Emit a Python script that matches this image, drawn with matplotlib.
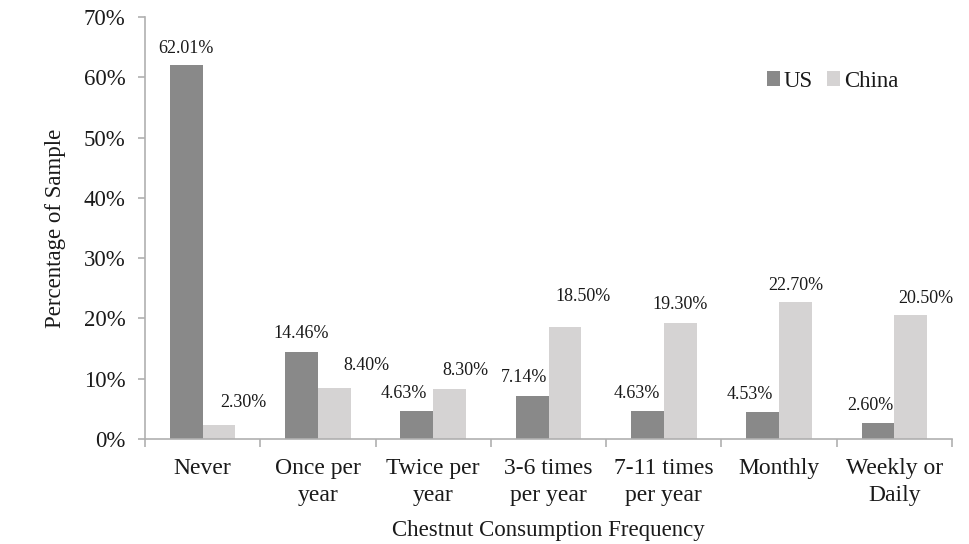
import matplotlib
matplotlib.use("Agg")
import matplotlib.pyplot as plt
import numpy as np
from matplotlib.ticker import FuncFormatter, FixedLocator

categories = ["Never", "Once per\nyear", "Twice per\nyear", "3-6 times\nper year",
              "7-11 times\nper year", "Monthly", "Weekly or\nDaily"]
us_values = [62.01, 14.46, 4.63, 7.14, 4.63, 4.53, 2.60]
china_values = [2.30, 8.40, 8.30, 18.50, 19.30, 22.70, 20.50]
series_names = ["US", "China"]
yticks = [0, 10, 20, 30, 40, 50, 60, 70]

# label offsets (pixels) relative to bar top centre
us_offsets = [(0, 17), (0, 18), (-13, 18), (-8, 18), (-11, 18), (-13, 17), (-8, 18)]
china_offsets = [(24, 23), (32, 23), (16, 18), (18, 31), (0, 18), (0, 17), (15, 17)]

plt.rcParams['font.family'] = ['Liberation Serif', 'DejaVu Serif']

fig = plt.figure(figsize=(9.69, 5.44), dpi=100)
ax = fig.add_axes([145/969, 1-439/544, (952-145)/969, (439-17)/544])

x = np.arange(len(categories))
w = 0.285
us_color = "#898989"
cn_color = "#d5d3d3"
b1 = ax.bar(x - w/2, us_values, width=w, color=us_color, label=series_names[0])
b2 = ax.bar(x + w/2, china_values, width=w, color=cn_color, label=series_names[1])

for bars, vals, offs in ((b1, us_values, us_offsets), (b2, china_values, china_offsets)):
    for bar, v, (dx, dy) in zip(bars, vals, offs):
        ax.annotate(f"{v:.2f}%", (bar.get_x() + bar.get_width()/2, bar.get_height()),
                    xytext=(dx, dy), textcoords='offset pixels',
                    ha='center', va='center', fontsize=13, color='#1a1a1a')

ax.set_xlim(-0.5, len(categories) - 0.5)
ax.set_ylim(0, 70)
ax.set_yticks(yticks)
ax.yaxis.set_major_formatter(FuncFormatter(lambda v, p: f"{int(v)}%"))

ax.xaxis.set_major_locator(FixedLocator(np.arange(len(categories) + 1) - 0.5))
ax.xaxis.set_minor_locator(FixedLocator(x))
ax.set_xticklabels([""] * (len(categories) + 1))
labels = ax.set_xticklabels(categories, minor=True)
for t in labels:
    t.set_linespacing(1.35)
ax.tick_params(axis='x', which='major', length=6, color='#b0b0b0', width=1.2)
ax.tick_params(axis='x', which='minor', length=0, pad=14, labelsize=17, colors='#1a1a1a')
ax.tick_params(axis='y', length=5, color='#b0b0b0', width=1.2, pad=9, labelsize=16.5, labelcolor='#1a1a1a')

for s in ('top', 'right'):
    ax.spines[s].set_visible(False)
for s in ('left', 'bottom'):
    ax.spines[s].set_color('#b0b0b0')
    ax.spines[s].set_linewidth(1.2)

ax.set_ylabel("Percentage of Sample", fontsize=16.5, labelpad=13, color='#1a1a1a')
ax.set_xlabel("Chestnut Consumption Frequency", fontsize=16.5, labelpad=10, color='#1a1a1a')

ax.legend(loc='center left', bbox_to_anchor=(0.756, 0.848), ncol=2, frameon=False,
          fontsize=16.5, handlelength=0.6, handleheight=0.6, handletextpad=0.15,
          columnspacing=0.6, borderpad=0, labelcolor='#1a1a1a')

fig.savefig("out.png", dpi=100)
